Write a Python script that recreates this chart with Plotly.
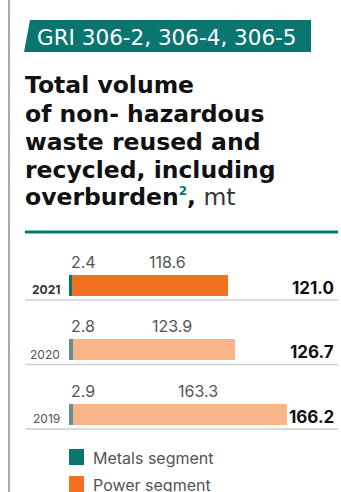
import plotly.graph_objects as go

# Waste reused and recycled, mt
years = ["2021", "2020", "2019"]
metals = [2.4, 2.8, 2.9]
power = [118.6, 123.9, 163.3]
totals = [121.0, 126.7, 166.2]

W, H = 341, 492
FONT = "Inter"
HEAD_FONT = "DejaVu Sans"
TEAL = "#0b7570"
metals_colors = [TEAL, "#5f9391", "#5f9391"]
power_colors = ["#f37021", "#f9b48a", "#f9b48a"]


def px(x):
    return x / W


def py(y):
    return 1 - y / H


fig = go.Figure()
fig.add_trace(go.Bar(
    y=years, x=metals, orientation="h", name="Metals segment",
    marker=dict(color=metals_colors, line=dict(width=0)), width=0.33,
    hoverinfo="x+y",
))
fig.add_trace(go.Bar(
    y=years, x=power, orientation="h", name="Power segment",
    marker=dict(color=power_colors, line=dict(width=0)), width=0.33,
    hoverinfo="x+y",
))

ann = []
shapes = []

# left frame line
shapes.append(dict(type="line", xref="paper", yref="paper", x0=px(9), x1=px(9), y0=0, y1=1,
                   line=dict(color="#8a8a8a", width=1.5)))
# GRI banner
shapes.append(dict(type="path", xref="paper", yref="paper",
                   path=f"M {px(30)} {py(20)} L {px(311)} {py(20)} L {px(311)} {py(52)} L {px(24)} {py(52)} Z",
                   fillcolor=TEAL, line=dict(width=0)))
ann.append(dict(text="GRI 306-2, 306-4, 306-5", xref="paper", yref="paper", x=px(35), y=py(37),
                xanchor="left", yanchor="middle", showarrow=False,
                font=dict(family=HEAD_FONT, size=21.5, color="white")))

# title lines
title_lines = [
    "<b>Total volume</b>",
    "<b>of non- hazardous</b>",
    "<b>waste reused and</b>",
    "<b>recycled, including</b>",
    "<b>overburden<sup><span style='color:%s;font-size:12px'>2</span></sup>,</b> <span style='color:#333'>mt</span>" % TEAL,
]
baselines = [93, 122, 150, 178, 205]
for t, b in zip(title_lines, baselines):
    ann.append(dict(text=t, xref="paper", yref="paper", x=px(23), y=py(b - 8),
                    xanchor="left", yanchor="middle", showarrow=False,
                    font=dict(family=HEAD_FONT, size=23.5, color="#111")))

# teal rule under title
shapes.append(dict(type="line", xref="paper", yref="paper", x0=px(25), x1=px(338), y0=py(232), y1=py(232),
                   line=dict(color=TEAL, width=3)))

# row separators
for i in range(len(years)):
    shapes.append(dict(type="line", xref="paper", yref="y", x0=px(25), x1=px(338),
                       y0=i + 0.225, y1=i + 0.225,
                       line=dict(color="#cfcfcf", width=1.5)))

for i, (yr, m, p, t) in enumerate(zip(years, metals, power, totals)):
    bold = i == 0
    ann.append(dict(text=f"<b>{yr}</b>" if bold else yr, xref="paper", yref="y", x=px(62), y=i,
                    xanchor="right", yanchor="middle", yshift=-4, showarrow=False,
                    font=dict(family=FONT, size=12, color="#333" if bold else "#555")))
    ann.append(dict(text=f"{m:.1f}", xref="x", yref="y", x=0, y=i, xanchor="left", yanchor="bottom",
                    yshift=12, showarrow=False, font=dict(family=FONT, size=16, color="#555")))
    ann.append(dict(text=f"{p:.1f}", xref="x", yref="y", x=0.49 * t, y=i, xanchor="left",
                    yanchor="bottom", yshift=12, showarrow=False,
                    font=dict(family=FONT, size=16, color="#555")))
    ann.append(dict(text=f"<b>{t:.1f}</b>", xref="paper", yref="y", x=px(336), y=i,
                    xanchor="right", yanchor="middle", yshift=-2, showarrow=False,
                    font=dict(family=FONT, size=17, color="#111")))

# legend
for name, col, y0 in [("Metals segment", TEAL, 449), ("Power segment", "#f37021", 476)]:
    shapes.append(dict(type="rect", xref="paper", yref="paper", x0=px(69), x1=px(84), y0=py(y0), y1=py(y0 + 16),
                       fillcolor=col, line=dict(width=0)))
    ann.append(dict(text=name, xref="paper", yref="paper", x=px(91), y=py(y0 + 9), xanchor="left",
                    yanchor="middle", showarrow=False, font=dict(family=FONT, size=16, color="#555")))

scale = 1.312
fig.update_layout(
    width=W, height=H, margin=dict(l=0, r=0, t=0, b=0),
    paper_bgcolor="white", plot_bgcolor="white",
    barmode="stack", bargap=0, showlegend=False,
    xaxis=dict(range=[-69 / scale, (W - 69) / scale], visible=False, fixedrange=True),
    yaxis=dict(type="category", range=[2.5, -0.5], domain=[py(446.75), py(253.25)], visible=False,
               fixedrange=True, categoryorder="array", categoryarray=years),
    annotations=ann, shapes=shapes,
)
fig.write_html("out.html")
